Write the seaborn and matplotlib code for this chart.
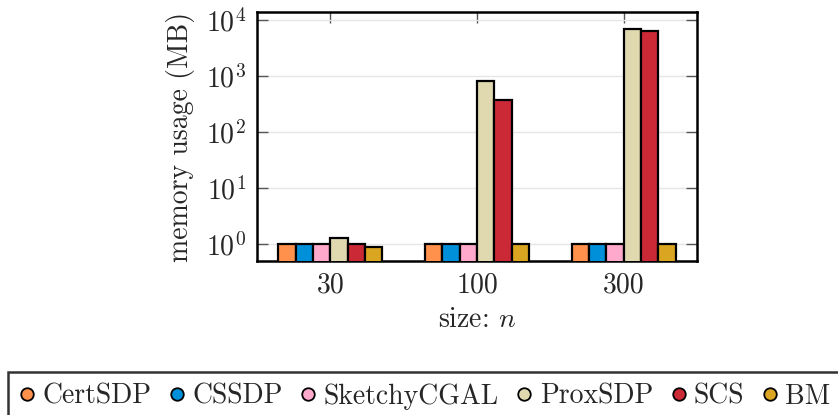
import numpy as np
import pandas as pd
import matplotlib
matplotlib.use('Agg')
import matplotlib.pyplot as plt
from matplotlib.lines import Line2D
from matplotlib.ticker import LogLocator, NullLocator
import seaborn as sns

# datos
tamanos = ['30', '100', '300']
solvers = ['CertSDP', 'CSSDP', 'SketchyCGAL', 'ProxSDP', 'SCS', 'BM']
colores = ['#FF914D', '#0090DA', '#FFAACC', '#E0D9B0', '#CC2936', '#DAA520']

certsdp = [1.0, 1.0, 1.0]
cssdp = [1.0, 1.0, 1.0]
sketchy = [1.0, 1.0, 1.0]
proxsdp = [1.3, 830.0, 6900.0]
scs = [1.0, 380.0, 6400.0]
bm = [0.9, 1.0, 1.0]

valores = [certsdp, cssdp, sketchy, proxsdp, scs, bm]

filas = []
for s, vals in zip(solvers, valores):
    for t, v in zip(tamanos, vals):
        filas.append({'n': t, 'solver': s, 'mem': v})
df = pd.DataFrame(filas)

sns.set_style('white')
plt.rcParams['font.family'] = ['cmr10', 'DejaVu Serif']
plt.rcParams['mathtext.fontset'] = 'cm'
plt.rcParams['axes.unicode_minus'] = False
plt.rcParams['axes.formatter.use_mathtext'] = True

fig = plt.figure(figsize=(8.38, 4.15), dpi=100)
ax = fig.add_axes([257 / 838, 1 - 261 / 415, (697 - 257) / 838, (261 - 12.5) / 415])

sns.barplot(data=df, x='n', y='mem', hue='solver', hue_order=solvers,
            palette=colores, saturation=1, width=0.71, edgecolor='black',
            linewidth=1.6, ax=ax, legend=False, errorbar=None, zorder=3)

ax.set_yscale('log')
ax.set_ylim(0.5, 1.38e4)
ax.set_xlim(-0.5, 2.5)
ax.yaxis.set_major_locator(LogLocator(base=10, numticks=10))
ax.yaxis.set_minor_locator(NullLocator())
ax.grid(axis='y', color='#e6e6e6', linewidth=1.0, zorder=0)
ax.set_axisbelow(True)

for sp in ax.spines.values():
    sp.set_color('black')
    sp.set_linewidth(1.8)

ax.tick_params(axis='both', which='major', direction='in', length=8, width=1.0,
               color='#555555', labelsize=20, pad=8,
               top=True, right=True, bottom=True, left=True)

ax.set_xlabel('size: $n$', fontsize=20, labelpad=6)
ax.set_ylabel('memory usage (MB)', fontsize=20, labelpad=8)

# leyenda con circulos
handles = [Line2D([0], [0], marker='o', linestyle='none', markersize=9,
                  markerfacecolor=c, markeredgecolor='black', markeredgewidth=1.3)
           for c in colores]
leg = fig.legend(handles, solvers, loc='upper left',
                 bbox_to_anchor=(8 / 838, 1 - 372 / 415), ncol=6, fontsize=20,
                 frameon=True, fancybox=False, edgecolor='black',
                 handlelength=0.6, handletextpad=0.25, columnspacing=0.62,
                 borderpad=0.4, borderaxespad=0)
leg.get_frame().set_linewidth(1.8)

plt.savefig('out.png', dpi=100)
